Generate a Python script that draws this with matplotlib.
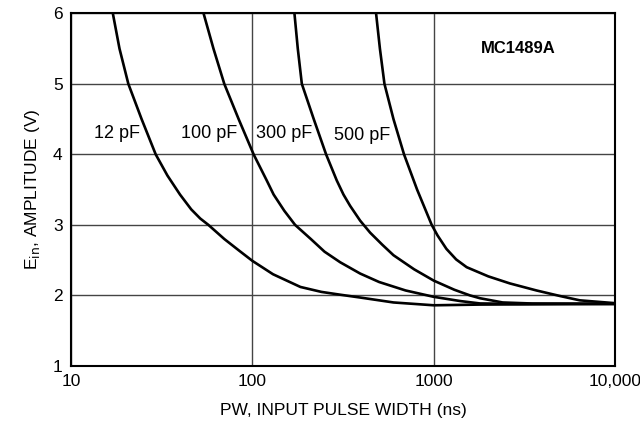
import numpy as np
import matplotlib
matplotlib.use('Agg')
import matplotlib.pyplot as plt

plt.rcParams['font.family'] = ['Liberation Sans', 'DejaVu Sans']

# values (pulse width in ns, amplitude in V)
pw_12 = [17.0, 18.5, 20.7, 24.5, 29.3, 34, 39.9, 46, 51.6, 57.2, 70, 85, 100,
         130, 184, 240, 305, 393, 600, 1000, 1800, 10000]
ein_12 = [6.0, 5.5, 5.0, 4.5, 4.0, 3.7, 3.43, 3.22, 3.09, 3.0, 2.8, 2.63, 2.49,
          2.3, 2.12, 2.05, 2.01, 1.97, 1.9, 1.86, 1.87, 1.88]

pw_100 = [53.8, 61, 70, 84, 101.6, 120, 131, 150, 172, 210, 250, 305, 393,
          500, 700, 1000, 1400, 1800, 3000, 10000]
ein_100 = [6.0, 5.5, 5.0, 4.5, 4.0, 3.63, 3.43, 3.2, 3.0, 2.8, 2.62, 2.47, 2.31,
           2.19, 2.07, 1.98, 1.92, 1.886, 1.88, 1.88]

pw_300 = [170.6, 178, 187.4, 218, 255, 292, 318, 346, 393, 446, 520, 600, 780,
          1000, 1300, 1585, 1800, 2400, 3500, 10000]
ein_300 = [6.0, 5.5, 5.0, 4.5, 4.0, 3.63, 3.43, 3.27, 3.06, 2.89, 2.72, 2.57, 2.37,
           2.21, 2.08, 2.0, 1.96, 1.9, 1.885, 1.88]

pw_500 = [481, 505, 535, 600, 686, 810, 975, 1050, 1175, 1330, 1520, 2000, 2630,
          3690, 5000, 6400, 10000]
ein_500 = [6.0, 5.5, 5.0, 4.5, 4.0, 3.5, 3.0, 2.85, 2.66, 2.51, 2.40, 2.27, 2.17,
           2.07, 1.99, 1.93, 1.89]

curves = [(pw_12, ein_12), (pw_100, ein_100), (pw_300, ein_300), (pw_500, ein_500)]
labels = ['12 pF', '100 pF', '300 pF', '500 pF']
label_x = [18, 58, 150, 403]
label_y = [4.3, 4.3, 4.3, 4.27]

fig = plt.figure(figsize=(6.4, 4.3), dpi=100)
ax = fig.add_axes([0.111, 0.149, 0.85, 0.82])

for x, y in curves:
    ax.plot(x, y, color='black', lw=1.9, solid_joinstyle='round')

for t, lx, ly in zip(labels, label_x, label_y):
    ax.text(lx, ly, t, fontsize=13, ha='center', va='center')

ax.text(2910, 5.5, 'MC1489A', fontsize=12, fontweight='bold', ha='center', va='center')

ax.set_xscale('log')
ax.set_xlim(10, 10000)
ax.set_ylim(1, 6)
ax.set_xticks([10, 100, 1000, 10000])
ax.set_xticklabels(['10', '100', '1000', '10,000'])
ax.set_yticks([1, 2, 3, 4, 5, 6])
ax.minorticks_off()
ax.tick_params(length=0, labelsize=12.5, pad=6)
ax.grid(True, color='#444444', lw=1.0)
for s in ax.spines.values():
    s.set_linewidth(1.5)

ax.set_xlabel('PW, INPUT PULSE WIDTH (ns)', fontsize=12.5, labelpad=10)
ax.set_ylabel(r'E$_{\rm in}$, AMPLITUDE (V)', fontsize=12.5, labelpad=8)

fig.savefig('out.png', dpi=100)
